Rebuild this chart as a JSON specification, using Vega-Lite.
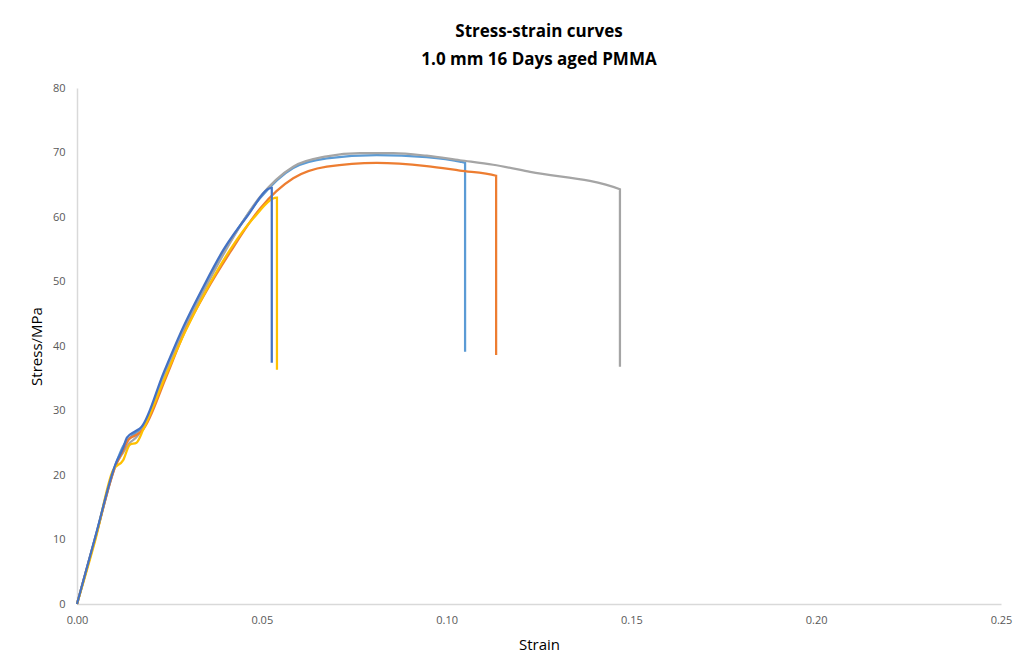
{
  "$schema": "https://vega.github.io/schema/vega-lite/v6.json",
  "width": 924,
  "height": 516,
  "autosize": {"type": "none"},
  "padding": {"left": 77, "top": 88, "right": 18, "bottom": 67},
  "background": "white",
  "title": {
    "text": ["Stress-strain curves", "1.0 mm 16 Days aged PMMA"],
    "font": "Open Sans",
    "fontSize": 17,
    "fontWeight": "bold",
    "color": "#000000",
    "anchor": "middle",
    "lineHeight": 28,
    "offset": 13
  },
  "config": {"view": {"stroke": null}},
  "data": {
    "values": [
      {"s": "A", "i": 0, "strain": 0, "stress": 0},
      {"s": "A", "i": 1, "strain": 0.005, "stress": 10.4},
      {"s": "A", "i": 2, "strain": 0.0105, "stress": 21.7},
      {"s": "A", "i": 3, "strain": 0.0125, "stress": 24.5},
      {"s": "A", "i": 4, "strain": 0.0138, "stress": 25.5},
      {"s": "A", "i": 5, "strain": 0.0158, "stress": 26.5},
      {"s": "A", "i": 6, "strain": 0.0176, "stress": 27.3},
      {"s": "A", "i": 7, "strain": 0.0236, "stress": 35.6},
      {"s": "A", "i": 8, "strain": 0.029, "stress": 42.7},
      {"s": "A", "i": 9, "strain": 0.0345, "stress": 49.0},
      {"s": "A", "i": 10, "strain": 0.04, "stress": 54.8},
      {"s": "A", "i": 11, "strain": 0.0495, "stress": 62.9},
      {"s": "A", "i": 12, "strain": 0.0585, "stress": 67.6},
      {"s": "A", "i": 13, "strain": 0.0676, "stress": 69.1},
      {"s": "A", "i": 14, "strain": 0.0811, "stress": 69.6},
      {"s": "A", "i": 15, "strain": 0.0946, "stress": 69.3},
      {"s": "A", "i": 16, "strain": 0.1036, "stress": 68.6},
      {"s": "A", "i": 17, "strain": 0.105, "stress": 68.4},
      {"s": "A", "i": 18, "strain": 0.105, "stress": 39.1},

      {"s": "B", "i": 0, "strain": 0, "stress": 0},
      {"s": "B", "i": 1, "strain": 0.005, "stress": 10.4},
      {"s": "B", "i": 2, "strain": 0.0105, "stress": 21.6},
      {"s": "B", "i": 3, "strain": 0.0125, "stress": 23.5},
      {"s": "B", "i": 4, "strain": 0.0143, "stress": 25.0},
      {"s": "B", "i": 5, "strain": 0.016, "stress": 25.8},
      {"s": "B", "i": 6, "strain": 0.0178, "stress": 27.2},
      {"s": "B", "i": 7, "strain": 0.0238, "stress": 35.5},
      {"s": "B", "i": 8, "strain": 0.029, "stress": 42.5},
      {"s": "B", "i": 9, "strain": 0.0347, "stress": 49.0},
      {"s": "B", "i": 10, "strain": 0.04, "stress": 54.6},
      {"s": "B", "i": 11, "strain": 0.0495, "stress": 63.1},
      {"s": "B", "i": 12, "strain": 0.0585, "stress": 67.8},
      {"s": "B", "i": 13, "strain": 0.0676, "stress": 69.4},
      {"s": "B", "i": 14, "strain": 0.0766, "stress": 69.9},
      {"s": "B", "i": 15, "strain": 0.0856, "stress": 69.9},
      {"s": "B", "i": 16, "strain": 0.0946, "stress": 69.5},
      {"s": "B", "i": 17, "strain": 0.1036, "stress": 68.8},
      {"s": "B", "i": 18, "strain": 0.1126, "stress": 68.1},
      {"s": "B", "i": 19, "strain": 0.1226, "stress": 67.0},
      {"s": "B", "i": 20, "strain": 0.1469, "stress": 64.3},
      {"s": "B", "i": 21, "strain": 0.1469, "stress": 36.8},

      {"s": "C", "i": 0, "strain": 0, "stress": 0},
      {"s": "C", "i": 1, "strain": 0.005, "stress": 10.3},
      {"s": "C", "i": 2, "strain": 0.0105, "stress": 21.5},
      {"s": "C", "i": 3, "strain": 0.0125, "stress": 23.8},
      {"s": "C", "i": 4, "strain": 0.014, "stress": 25.5},
      {"s": "C", "i": 5, "strain": 0.016, "stress": 26.2},
      {"s": "C", "i": 6, "strain": 0.0178, "stress": 27.0},
      {"s": "C", "i": 7, "strain": 0.024, "stress": 35.0},
      {"s": "C", "i": 8, "strain": 0.029, "stress": 42.0},
      {"s": "C", "i": 9, "strain": 0.035, "stress": 48.5},
      {"s": "C", "i": 10, "strain": 0.0414, "stress": 54.5},
      {"s": "C", "i": 11, "strain": 0.0495, "stress": 61.3},
      {"s": "C", "i": 12, "strain": 0.0585, "stress": 66.0},
      {"s": "C", "i": 13, "strain": 0.0676, "stress": 67.8},
      {"s": "C", "i": 14, "strain": 0.0811, "stress": 68.4},
      {"s": "C", "i": 15, "strain": 0.0946, "stress": 67.9},
      {"s": "C", "i": 16, "strain": 0.1036, "stress": 67.2},
      {"s": "C", "i": 17, "strain": 0.1134, "stress": 66.4},
      {"s": "C", "i": 18, "strain": 0.1134, "stress": 38.6},

      {"s": "D", "i": 0, "strain": 0, "stress": 0},
      {"s": "D", "i": 1, "strain": 0.005, "stress": 10.0},
      {"s": "D", "i": 2, "strain": 0.0098, "stress": 20.8},
      {"s": "D", "i": 3, "strain": 0.0125, "stress": 22.3},
      {"s": "D", "i": 4, "strain": 0.0143, "stress": 24.7},
      {"s": "D", "i": 5, "strain": 0.0161, "stress": 25.0},
      {"s": "D", "i": 6, "strain": 0.0179, "stress": 27.0},
      {"s": "D", "i": 7, "strain": 0.0243, "stress": 35.8},
      {"s": "D", "i": 8, "strain": 0.0295, "stress": 42.5},
      {"s": "D", "i": 9, "strain": 0.0355, "stress": 49.2},
      {"s": "D", "i": 10, "strain": 0.0414, "stress": 54.9},
      {"s": "D", "i": 11, "strain": 0.0477, "stress": 59.8},
      {"s": "D", "i": 12, "strain": 0.0541, "stress": 63.0},
      {"s": "D", "i": 13, "strain": 0.0541, "stress": 36.3},

      {"s": "E", "i": 0, "strain": 0, "stress": 0},
      {"s": "E", "i": 1, "strain": 0.005, "stress": 10.5},
      {"s": "E", "i": 2, "strain": 0.0105, "stress": 21.8},
      {"s": "E", "i": 3, "strain": 0.0125, "stress": 24.2},
      {"s": "E", "i": 4, "strain": 0.0135, "stress": 25.8},
      {"s": "E", "i": 5, "strain": 0.0155, "stress": 26.7},
      {"s": "E", "i": 6, "strain": 0.0175, "stress": 27.5},
      {"s": "E", "i": 7, "strain": 0.0234, "stress": 35.8},
      {"s": "E", "i": 8, "strain": 0.0288, "stress": 43.0},
      {"s": "E", "i": 9, "strain": 0.0342, "stress": 49.2},
      {"s": "E", "i": 10, "strain": 0.0396, "stress": 54.9},
      {"s": "E", "i": 11, "strain": 0.0459, "stress": 60.0},
      {"s": "E", "i": 12, "strain": 0.0527, "stress": 64.5},
      {"s": "E", "i": 13, "strain": 0.0527, "stress": 37.4}
    ]
  },
  "mark": {"type": "line", "strokeWidth": 2.25, "interpolate": "monotone"},
  "encoding": {
    "x": {
      "field": "strain",
      "type": "quantitative",
      "scale": {"domain": [0, 0.25], "nice": false},
      "axis": {
        "title": "Strain",
        "values": [0, 0.05, 0.1, 0.15, 0.2, 0.25],
        "format": ".2f",
        "grid": false,
        "ticks": false,
        "labelFlush": false,
        "domainColor": "#d9d9d9",
        "domainWidth": 1.5,
        "labelColor": "#595959",
        "labelFont": "Open Sans",
        "labelFontSize": 11,
        "labelPadding": 10,
        "titleFont": "Open Sans",
        "titleFontSize": 15,
        "titleFontWeight": "normal",
        "titleColor": "#000000",
        "titlePadding": 12
      }
    },
    "y": {
      "field": "stress",
      "type": "quantitative",
      "scale": {"domain": [0, 80], "nice": false},
      "axis": {
        "title": "Stress/MPa",
        "values": [0, 10, 20, 30, 40, 50, 60, 70, 80],
        "grid": false,
        "ticks": false,
        "labelFlush": false,
        "domainColor": "#d9d9d9",
        "domainWidth": 1.5,
        "labelColor": "#595959",
        "labelFont": "Open Sans",
        "labelFontSize": 11,
        "labelPadding": 12,
        "titleFont": "Open Sans",
        "titleFontSize": 15,
        "titleFontWeight": "normal",
        "titleColor": "#000000",
        "titlePadding": 8
      }
    },
    "color": {
      "field": "s",
      "type": "nominal",
      "scale": {
        "domain": ["A", "B", "C", "D", "E"],
        "range": ["#5B9BD5", "#A5A5A5", "#ED7D31", "#FFC000", "#4472C4"]
      },
      "legend": null
    },
    "order": {"field": "i", "type": "quantitative"}
  }
}
